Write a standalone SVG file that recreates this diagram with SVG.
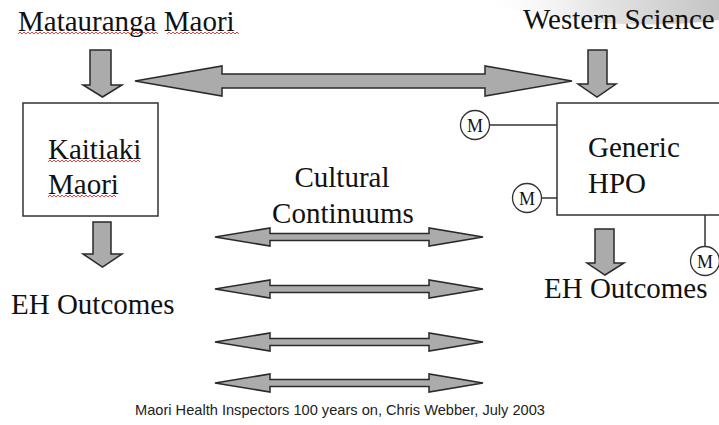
<svg xmlns="http://www.w3.org/2000/svg" width="719" height="425" viewBox="0 0 719 425">
<defs>
<linearGradient id="sw" x1="0" y1="0" x2="1" y2="0">
<stop offset="0" stop-color="#ffffff" stop-opacity="0"/>
<stop offset="0.5" stop-color="#e6e6e6"/>
<stop offset="1" stop-color="#c4c4c4"/>
</linearGradient>
<style>
.t{font-family:"Liberation Serif","Times New Roman",serif;font-size:29px;fill:#111}
.m{font-family:"Liberation Serif","Times New Roman",serif;font-size:18px;fill:#111;text-anchor:middle}
.f{font-family:"Liberation Sans",Arial,sans-serif;font-size:14.5px;fill:#222}
.arr{fill:#ababab;stroke:#2a2a2a;stroke-width:1.5;stroke-linejoin:miter}
.box{fill:#fff;stroke:#333;stroke-width:1.5}
.ln{stroke:#333;stroke-width:1.5;fill:none}
.circ{fill:#fff;stroke:#333;stroke-width:1.3}
.sq{stroke:#e03030;stroke-width:0.9;fill:none}
</style>
</defs>
<rect width="719" height="425" fill="#fff"/>
<path d="M470,0 L719,0 L719,20 Q640,30 560,18 Q510,10 470,0 Z" fill="url(#sw)"/>

<g id="connectors">
<polygon class="arr" points="135,81 222,66 222,74 485,74 485,66 572,81 485,96 485,88 222,88 222,96"/>
<polygon class="arr" points="90,50 111,50 111,85 122,85 102.5,97 83,85 90,85"/>
<polygon class="arr" points="588,50 607,50 607,84 616,84 597,97 578,84 588,84"/>
<polygon class="arr" points="93,222 111,222 111,254 122,254 102.5,267 83,254 93,254"/>
<polygon class="arr" points="595,229 614,229 614,263 624,263 605,275 587,263 595,263"/>
<polygon class="arr" points="215,237 270,228 270,233.5 429,233.5 429,228 483,237 429,246 429,240.5 270,240.5 270,246"/>
<polygon class="arr" points="215,289 270,280 270,285.5 429,285.5 429,280 483,289 429,298 429,292.5 270,292.5 270,298"/>
<polygon class="arr" points="215,342 270,333 270,338.5 429,338.5 429,333 483,342 429,351 429,345.5 270,345.5 270,351"/>
<polygon class="arr" points="215,383 270,374 270,379.5 429,379.5 429,374 483,383 429,392 429,386.5 270,386.5 270,392"/>
<line class="ln" x1="489" y1="125" x2="557" y2="125"/>
<line class="ln" x1="541" y1="198" x2="557" y2="198"/>
<line class="ln" x1="705" y1="215" x2="705" y2="247"/>
</g>

<g id="matauranga">
<text class="t" x="18" y="31">Matauranga Maori</text>
<polyline class="sq" points="18,34 20,32 22,34 24,32 26,34 28,32 30,34 32,32 34,34 36,32 38,34 40,32 42,34 44,32 46,34 48,32 50,34 52,32 54,34 56,32 58,34 60,32 62,34 64,32 66,34 68,32 70,34 72,32 74,34 76,32 78,34 80,32 82,34 84,32 86,34 88,32 90,34 92,32 94,34 96,32 98,34 100,32 102,34 104,32 106,34 108,32 110,34 112,32 114,34 116,32 118,34 120,32 122,34 124,32 126,34 128,32 130,34 132,32 134,34 136,32 138,34 140,32 142,34 144,32 146,34 148,32 150,34 152,32 154,34 156,32 158,34"/>
<polyline class="sq" points="167,34 169,32 171,34 173,32 175,34 177,32 179,34 181,32 183,34 185,32 187,34 189,32 191,34 193,32 195,34 197,32 199,34 201,32 203,34 205,32 207,34 209,32 211,34 213,32 215,34 217,32 219,34 221,32 223,34 225,32 227,34 229,32 231,34 233,32 235,34 237,32 239,34"/>
</g>

<g id="western">
<text class="t" x="523" y="29">Western Science</text>
</g>

<g id="kaitiaki">
<rect class="box" x="23" y="103" width="135" height="113"/>
<text class="t" x="48" y="159">Kaitiaki</text>
<text class="t" x="48" y="194">Maori</text>
<polyline class="sq" points="48,162 50,160 52,162 54,160 56,162 58,160 60,162 62,160 64,162 66,160 68,162 70,160 72,162 74,160 76,162 78,160 80,162 82,160 84,162 86,160 88,162 90,160 92,162 94,160 96,162 98,160 100,162 102,160 104,162 106,160 108,162 110,160 112,162 114,160 116,162 118,160 120,162 122,160 124,162 126,160 128,162 130,160 132,162 134,160 136,162 138,160 140,162"/>
<polyline class="sq" points="48,197 50,195 52,197 54,195 56,197 58,195 60,197 62,195 64,197 66,195 68,197 70,195 72,197 74,195 76,197 78,195 80,197 82,195 84,197 86,195 88,197 90,195 92,197 94,195 96,197 98,195 100,197 102,195 104,197 106,195 108,197 110,195 112,197 114,195 116,197"/>
</g>

<g id="eh-left">
<text class="t" x="11" y="314">EH Outcomes</text>
</g>

<g id="hpo">
<rect class="box" x="557" y="103" width="170" height="112"/>
<text class="t" x="588" y="157">Generic</text>
<text class="t" x="588" y="193">HPO</text>
</g>

<g id="m1">
<circle class="circ" cx="475" cy="125" r="14.5"/>
<text class="m" x="475" y="131.5">M</text>
</g>
<g id="m2">
<circle class="circ" cx="527" cy="198" r="14.5"/>
<text class="m" x="527" y="204.5">M</text>
</g>
<g id="m3">
<circle class="circ" cx="705" cy="261" r="14.5"/>
<text class="m" x="705" y="267.5">M</text>
</g>

<g id="eh-right">
<text class="t" x="544" y="298">EH Outcomes</text>
</g>

<g id="cultural">
<text class="t" x="342" y="187" text-anchor="middle">Cultural</text>
<text class="t" x="343" y="223" text-anchor="middle">Continuums</text>
</g>

<g id="footer">
<text class="f" x="135" y="415" textLength="410" lengthAdjust="spacingAndGlyphs">Maori Health Inspectors 100 years on, Chris Webber, July 2003</text>
</g>
</svg>
